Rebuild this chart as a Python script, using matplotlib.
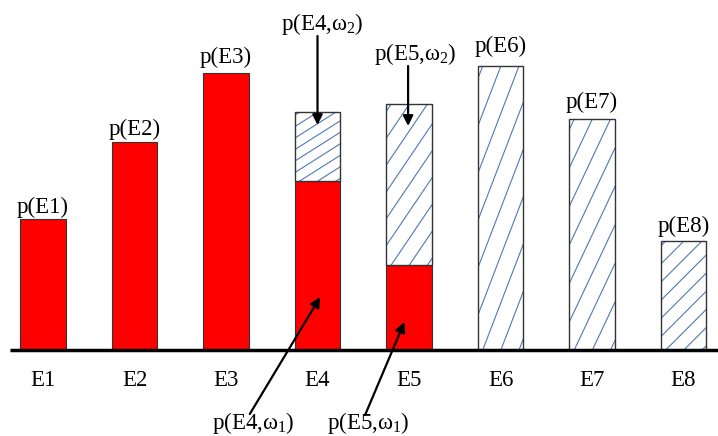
import matplotlib
matplotlib.use('Agg')
import matplotlib.pyplot as plt
import numpy as np

plt.rcParams['font.family'] = ['Liberation Serif', 'DejaVu Serif']
plt.rcParams['mathtext.fontset'] = 'custom'
plt.rcParams['mathtext.rm'] = 'Liberation Serif'
plt.rcParams['mathtext.it'] = 'Liberation Serif:italic'

# data
eventos = ['E1', 'E2', 'E3', 'E4', 'E5', 'E6', 'E7', 'E8']
rotulos = ['p(E1)', 'p(E2)', 'p(E3)', None, None, 'p(E6)', 'p(E7)', 'p(E8)']
p_w1 = [0.131, 0.208, 0.277, 0.169, 0.085, 0.0, 0.0, 0.0]    # parte vermelha (omega 1)
p_w2 = [0.0, 0.0, 0.0, 0.069, 0.161, 0.284, 0.231, 0.109]    # parte hachurada (omega 2)
folga = [0.006, 0.007, 0.010, 0, 0, 0.014, 0.011, 0.009]     # distancia rotulo-barra

fig = plt.figure(figsize=(7.18, 4.36), dpi=100)
ax = fig.add_axes([0, 0, 1, 1])
ax.set_xlim(-0.47, 7.377)
ax.set_ylim(-0.086, 0.350)
ax.axis('off')

x = list(range(len(eventos)))
largura = 0.5
fs = 16.5

# barras vermelhas
for i in x:
    if p_w1[i] > 0:
        ax.bar(i, p_w1[i], width=largura, color='#ff0000', edgecolor='#333333', linewidth=0.8, zorder=2)


# hachura esticada com a barra (6 linhas na altura)
def hachura(ret, n=6, incl=0.42):
    tr = ret.get_patch_transform() + ax.transData
    for c in np.arange(-incl, 1.0, 1.0 / n) + 0.04:
        ln, = ax.plot([0, 1], [c, c + incl], transform=tr, color='#5078b4', linewidth=0.8, zorder=2.5)
        ln.set_clip_path(ret)


# barras hachuradas
for i in x:
    if p_w2[i] > 0:
        b = ax.bar(i, p_w2[i], bottom=p_w1[i], width=largura, color='white', linewidth=0, zorder=2)
        hachura(b[0])
        ax.bar(i, p_w2[i], bottom=p_w1[i], width=largura, fill=False, edgecolor='#333333',
               linewidth=1.0, zorder=3)

# eixo
ax.plot([-0.36, 7.377], [0, 0], color='black', linewidth=2.5, zorder=4, solid_capstyle='butt')

# rotulos
for i in x:
    ax.text(i, -0.036, eventos[i], ha='center', va='baseline', fontsize=fs)
    if rotulos[i]:
        ax.text(i, p_w1[i] + p_w2[i] + folga[i], rotulos[i], ha='center', va='baseline', fontsize=fs)

seta = dict(arrowstyle='-|>', color='black', lw=1.6, mutation_scale=15, shrinkA=0, shrinkB=0)

ax.text(3.05, 0.320, r'p(E4,ω$_2$)', ha='center', va='baseline', fontsize=fs)
ax.annotate('', xy=(3, 0.225), xytext=(3, 0.314), arrowprops=seta, zorder=5)

ax.text(4.07, 0.290, r'p(E5,ω$_2$)', ha='center', va='baseline', fontsize=fs)
ax.annotate('', xy=(3.99, 0.224), xytext=(3.99, 0.284), arrowprops=seta, zorder=5)

ax.text(2.295, -0.079, r'p(E4,ω$_1$)', ha='center', va='baseline', fontsize=fs)
ax.annotate('', xy=(3.03, 0.053), xytext=(2.26, -0.064), arrowprops=seta, zorder=5)

ax.text(3.55, -0.079, r'p(E5,ω$_1$)', ha='center', va='baseline', fontsize=fs)
ax.annotate('', xy=(3.95, 0.028), xytext=(3.52, -0.065), arrowprops=seta, zorder=5)

fig.savefig('out.png', dpi=100)
